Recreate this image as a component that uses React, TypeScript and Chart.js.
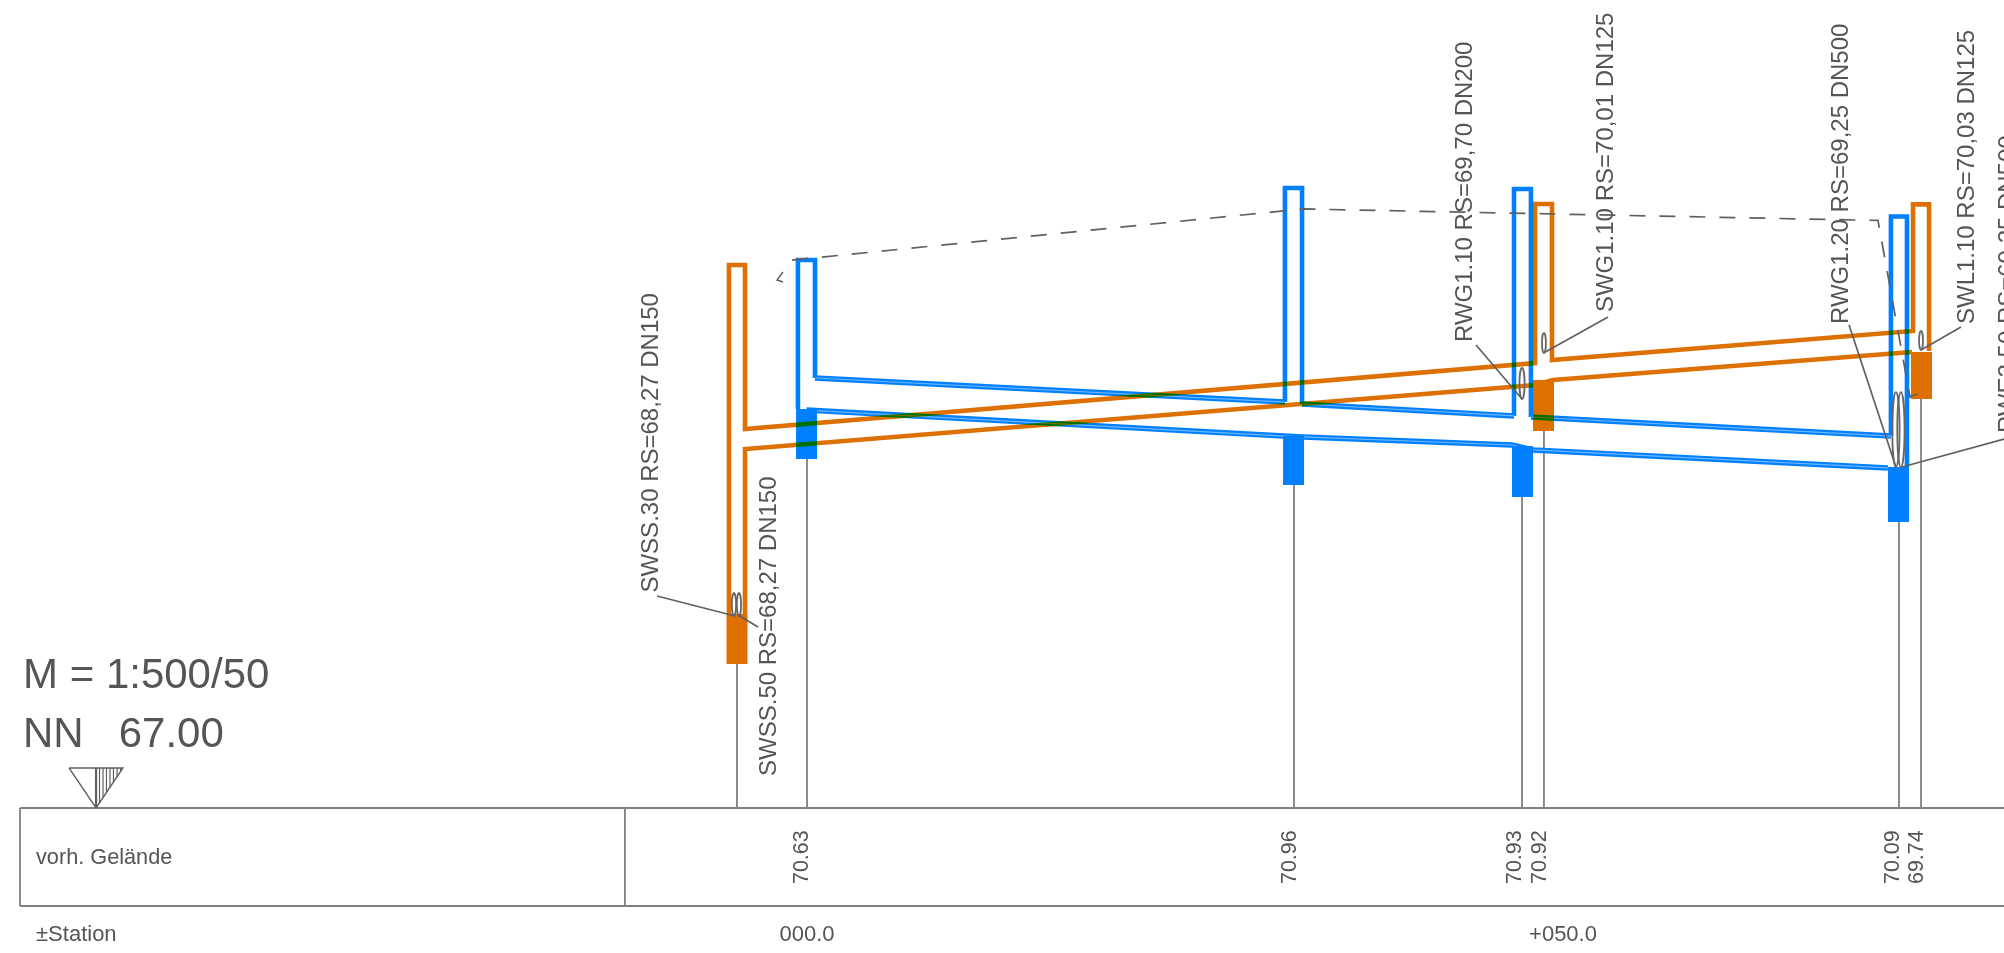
import React, { useEffect, useRef } from "react";
import { Chart, registerables } from "chart.js";

Chart.register(...registerables);

type Pt = [number, number];

// Scale limits: station in metres, elevation in m above NN
const stationRange: Pt = [-53.373, 79.167];
const elevationRange: Pt = [66.041, 72.344];

// Orange (Schmutzwasser) pipe walls and shafts
const orangeUpper: Pt[] = [[-5.16, 68.283], [-5.16, 70.591], [-4.1, 70.591], [-4.1, 69.507], [48.15, 69.943], [48.15, 70.995], [49.27, 70.995], [49.27, 69.963], [73.15, 70.155], [73.15, 70.992], [74.21, 70.992], [74.21, 70.022]];
const orangeLower: Pt[] = [[-4.1, 68.283], [-4.1, 69.374], [48.15, 69.798], [49.34, 69.831], [73.08, 70.016]];

// Blue (Regenwasser) shafts
const blueShafts: Pt[][] = [
  [[-0.6, 69.639], [-0.6, 70.624], [0.53, 70.624], [0.53, 69.844]],
  [[31.61, 69.685], [31.61, 71.101], [32.74, 71.101], [32.74, 69.672]],
  [[46.76, 69.593], [46.76, 71.094], [47.88, 71.094], [47.88, 69.586]],
  [[71.69, 69.46], [71.69, 70.912], [72.75, 70.912], [72.75, 69.255]],
];

// Blue pipe reaches
const bluePipes: Pt[][] = [
  [[0.53, 69.844], [31.61, 69.685]],
  [[32.74, 69.672], [46.76, 69.593]],
  [[47.88, 69.586], [71.69, 69.46]],
  [[-0.03, 69.632], [31.55, 69.46], [32.8, 69.454], [46.63, 69.401], [48.02, 69.368], [71.49, 69.249]],
];

// Shaft bases: [station, top elevation, bottom elevation]
const orangeBases: [number, number, number][] = [[-4.63, 68.283, 67.952], [48.71, 69.831, 69.493], [73.71, 70.016, 69.705]];
const blueBases: [number, number, number][] = [[-0.03, 69.639, 69.308], [32.18, 69.46, 69.136], [47.32, 69.395, 69.057], [72.19, 69.255, 68.892]];

// Station drop lines to the table: [station, elevation of base]
const dropLines: Pt[] = [[-4.63, 67.952], [0, 69.308], [32.21, 69.136], [47.29, 69.057], [48.74, 69.493], [72.22, 68.892], [73.68, 69.705]];

// Dashed terrain line
const terrainLine: Pt[] = [[-0.99, 70.624], [32.8, 70.962], [70.83, 70.886], [72.95, 69.718], [73.08, 69.725], [74.07, 69.758]];
const terrainTick: Pt[] = [[-1.59, 70.545], [-1.98, 70.492], [-1.59, 70.479]];

// Label leaders
const leaders: Pt[][] = [
  [[-9.92, 68.402], [-4.76, 68.27]],
  [[-3.24, 68.197], [-4.56, 68.276]],
  [[44.25, 70.062], [47.29, 69.705]],
  [[52.98, 70.247], [48.71, 70.009]],
  [[68.92, 70.194], [72.02, 69.255]],
  [[76.32, 70.181], [73.68, 70.029]],
  [[79.17, 69.44], [72.42, 69.255]],
];

// Ellipses: [station, low elevation, high elevation, half width in m]
const ellipses: [number, number, number, number][] = [
  [-4.83, 68.27, 68.422, 0.14],
  [-4.5, 68.27, 68.422, 0.14],
  [47.29, 69.705, 69.91, 0.17],
  [48.74, 70.009, 70.142, 0.13],
  [72.02, 69.255, 69.751, 0.24],
  [72.35, 69.255, 69.751, 0.24],
  [73.68, 70.029, 70.155, 0.13],
];

// Table frame
const tableTop = 67;
const tableBottom = 66.352;
const tableLeft = -52.05;
const tableDivider = -12.04;
const tableRight = 79.17;

// Datum triangle
const triangleOutline: Pt[] = [[-48.81, 67.265], [-45.24, 67.265], [-47.02, 67], [-48.81, 67.265]];
const triangleAxis: Pt[] = [[-47.02, 67.265], [-47.02, 67]];
const triangleHatch: Pt[] = [[-46.79, 67.034], [-46.56, 67.069], [-46.33, 67.103], [-46.1, 67.137], [-45.87, 67.171], [-45.63, 67.206], [-45.4, 67.24]];

// Texts
const pipeLabels: [string, number, number][] = [
  ["SWSS.30 RS=68,27 DN150", -9.85, 68.425],
  ["SWSS.50 RS=68,27 DN150", -2.05, 67.212],
  ["RWG1.10 RS=69,70 DN200", 43.98, 70.082],
  ["SWG1.10 RS=70,01 DN125", 53.31, 70.28],
  ["RWG1.20 RS=69,25 DN500", 68.85, 70.201],
  ["SWL1.10 RS=70,03 DN125", 77.18, 70.201],
  ["RWE2.50 RS=69,25 DN500", 79.89, 69.48],
];
const groundValues: [string, number][] = [["70.63", 0.07], ["70.96", 32.34], ["70.93", 47.22], ["70.92", 48.88], ["70.09", 72.22], ["69.74", 73.81]];
const groundValueElevation = 66.497;
const stationLabels: [string, number][] = [["000.0", 0], ["+050.0", 50]];
const stationLabelElevation = 66.12;
const titleLines: [string, number, number, number][] = [
  ["M = 1:500/50", -51.85, 67.794, 42],
  ["NN   67.00", -51.85, 67.403, 42],
  ["vorh. Gelände", -50.99, 66.63, 21.7],
  ["±Station", -50.99, 66.12, 22],
];

const BLUE = "#0080ff";
const BLUE_INNER = "#6cb5ff";
const ORANGE = "#de7000";
const GREY = "#808080";
const DARK = "#606060";
const TEXT = "#555555";
const FONT = '"Liberation Sans", Arial, sans-serif';

const toXY = (pts: Pt[]) => pts.map(([x, y]) => ({ x, y }));

export default function App() {
  const ref = useRef<HTMLCanvasElement | null>(null);

  useEffect(() => {
    const datasets: any[] = [];
    const add = (pts: Pt[], color: string, width: number, extra: any = {}) => {
      datasets.push({
        data: toXY(pts),
        showLine: true,
        borderColor: color,
        backgroundColor: color,
        borderWidth: width,
        pointRadius: 0,
        borderCapStyle: "butt",
        borderJoinStyle: "miter",
        tension: 0,
        fill: false,
        clip: false,
        order: -datasets.length,
        ...extra,
      });
    };

    // Table frame and drop lines
    add([[tableLeft, tableTop], [tableRight, tableTop]], GREY, 2.2);
    add([[tableLeft, tableBottom], [tableRight, tableBottom]], GREY, 2.2);
    add([[tableLeft, tableTop], [tableLeft, tableBottom]], GREY, 1.8);
    add([[tableDivider, tableTop], [tableDivider, tableBottom]], GREY, 1.8);
    dropLines.forEach(([x, y]) => add([[x, y], [x, tableTop]], GREY, 1.8));

    // Datum triangle
    add(triangleOutline, DARK, 1.4);
    add(triangleAxis, DARK, 2.2);
    triangleHatch.forEach(([x, y]) => add([[x, triangleOutline[0][1]], [x, y]], DARK, 1.2));

    // Blue network
    blueShafts.forEach((s) => add(s, BLUE, 4.6));
    bluePipes.forEach((p) => add(p, BLUE, 5.5));
    bluePipes.forEach((p) => add(p, BLUE_INNER, 1.2));
    blueBases.forEach(([x, a, b]) => add([[x, a], [x, b]], BLUE, 21));

    // Orange network, darkened where it crosses the blue one
    add(orangeUpper, ORANGE, 4.6, { darken: true });
    add(orangeLower, ORANGE, 4.6, { darken: true });
    orangeBases.forEach(([x, a, b]) => add([[x, a], [x, b]], ORANGE, 21, { darken: true }));

    // Terrain and leaders
    add(terrainLine, DARK, 1.7, { borderDash: [16, 14] });
    add(terrainTick, DARK, 1.5);
    leaders.forEach((l) => add(l, DARK, 1.7));

    const page = {
      id: "page",
      beforeDraw(chart: any) {
        const { ctx, width, height } = chart;
        ctx.save();
        ctx.fillStyle = "#ffffff";
        ctx.fillRect(0, 0, width, height);
        ctx.restore();
      },
      beforeDatasetDraw(chart: any, args: any) {
        if (chart.data.datasets[args.index].darken) {
          chart.ctx.save();
          chart.ctx.globalCompositeOperation = "darken";
        }
      },
      afterDatasetDraw(chart: any, args: any) {
        if (chart.data.datasets[args.index].darken) chart.ctx.restore();
      },
      afterDatasetsDraw(chart: any) {
        const { ctx } = chart;
        const sx = chart.scales.x;
        const sy = chart.scales.y;

        ctx.save();
        ctx.strokeStyle = "#666666";
        ctx.lineWidth = 1.8;
        ellipses.forEach(([x, lo, hi, rx]) => {
          const cx = sx.getPixelForValue(x);
          const top = sy.getPixelForValue(hi);
          const bot = sy.getPixelForValue(lo);
          const rpx = Math.abs(sx.getPixelForValue(x + rx) - cx);
          ctx.beginPath();
          ctx.ellipse(cx, (top + bot) / 2, rpx, (bot - top) / 2, 0, 0, Math.PI * 2);
          ctx.stroke();
        });

        ctx.fillStyle = TEXT;
        ctx.textBaseline = "alphabetic";

        const vertical = (t: string, x: number, y: number, size: number) => {
          ctx.save();
          ctx.translate(sx.getPixelForValue(x), sy.getPixelForValue(y));
          ctx.rotate(-Math.PI / 2);
          ctx.font = `${size}px ${FONT}`;
          ctx.textAlign = "left";
          ctx.fillText(t, 0, 0);
          ctx.restore();
        };

        pipeLabels.forEach(([t, x, y]) => vertical(t, x, y, 24));
        groundValues.forEach(([t, x]) => vertical(t, x, groundValueElevation, 21.5));

        ctx.textAlign = "center";
        ctx.font = `22px ${FONT}`;
        stationLabels.forEach(([t, x]) => ctx.fillText(t, sx.getPixelForValue(x), sy.getPixelForValue(stationLabelElevation)));

        ctx.textAlign = "left";
        titleLines.forEach(([t, x, y, size]) => {
          ctx.font = `${size}px ${FONT}`;
          ctx.fillText(t, sx.getPixelForValue(x), sy.getPixelForValue(y));
        });
        ctx.restore();
      },
    };

    const chart = new Chart(ref.current as HTMLCanvasElement, {
      type: "scatter",
      data: { datasets },
      plugins: [page],
      options: {
        animation: false,
        responsive: false,
        devicePixelRatio: 1,
        layout: { padding: 0 },
        events: [],
        plugins: { legend: { display: false }, tooltip: { enabled: false } },
        scales: {
          x: { type: "linear", display: false, min: stationRange[0], max: stationRange[1] },
          y: { type: "linear", display: false, min: elevationRange[0], max: elevationRange[1] },
        },
      },
    } as any);
    return () => chart.destroy();
  }, []);

  return (
    <div style={{ position: "fixed", left: 0, top: 0, width: 2004, height: 953, overflow: "hidden", background: "#fff" }}>
      <canvas ref={ref} width={2004} height={953} style={{ display: "block", width: 2004, height: 953, filter: "blur(0.5px)" }} />
    </div>
  );
}
